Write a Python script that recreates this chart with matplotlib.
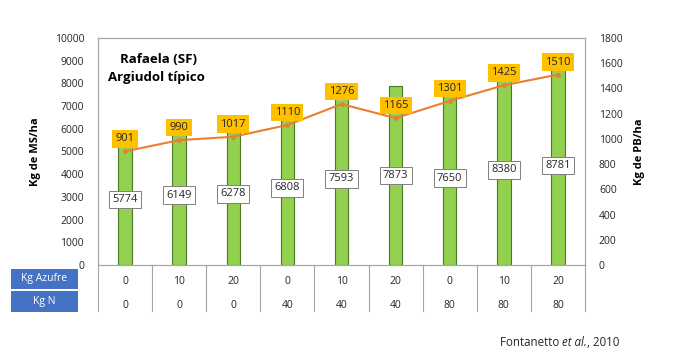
import matplotlib
matplotlib.use("Agg")
import matplotlib.pyplot as plt
from matplotlib.patches import Rectangle
import matplotlib.transforms as mtransforms
import numpy as np

plt.rcParams['font.family'] = ['Open Sans', 'DejaVu Sans']

# data
azufre = ['0', '10', '20', '0', '10', '20', '0', '10', '20']
nitro = ['0', '0', '0', '40', '40', '40', '80', '80', '80']
ms_ha = [5774, 6149, 6278, 6808, 7593, 7873, 7650, 8380, 8781]
pb_ha = [901, 990, 1017, 1110, 1276, 1165, 1301, 1425, 1510]

x = np.arange(len(ms_ha))
frame_col = '#a6a6a6'
txt_col = '#262626'

fig = plt.figure(figsize=(6.82, 3.59), dpi=100)
ax = fig.add_axes([98 / 682, 1 - 265 / 359, 487 / 682, 227 / 359])
ax2 = ax.twinx()

# bars
ax.bar(x, ms_ha, width=0.25, color='#92d050', edgecolor='#4e7a25', linewidth=0.8, zorder=2)
for xi, v in zip(x, ms_ha):
    ax.text(xi, v / 2, str(v), ha='center', va='center', fontsize=8, color=txt_col, zorder=4,
            bbox=dict(boxstyle='square,pad=0.3', fc='white', ec='#7f7f7f', lw=0.7))

ax.set_xlim(-0.5, len(ms_ha) - 0.5)
ax.set_ylim(0, 10000)
ax.set_yticks(np.arange(0, 10001, 1000))
ax.set_xticks([])
ax.tick_params(axis='y', length=0, labelsize=7.5, labelcolor=txt_col, pad=10)
for s in ax.spines.values():
    s.set_color(frame_col)
    s.set_linewidth(0.8)
ax.set_ylabel('Kg de MS/ha', fontsize=8, fontweight='bold', color='black', labelpad=10)

# line
ax2.plot(x, pb_ha, color='#ed7d31', lw=1.5, marker='o', ms=2.5, zorder=3)
for xi, v in zip(x, pb_ha):
    ax2.annotate(str(v), (xi, v), xytext=(0, 9), textcoords='offset points', ha='center', va='center',
                 fontsize=8, color=txt_col, zorder=5,
                 bbox=dict(boxstyle='square,pad=0.3', fc='#ffc000', ec='none'))
ax2.set_ylim(0, 1800)
ax2.set_yticks(np.arange(0, 1801, 200))
ax2.tick_params(axis='y', length=0, labelsize=7.5, labelcolor=txt_col, pad=10)
for s in ax2.spines.values():
    s.set_color(frame_col)
    s.set_linewidth(0.8)
ax2.set_ylabel('Kg de PB/ha', fontsize=8, fontweight='bold', color='black', labelpad=8)
ax.set_zorder(0)
ax2.set_zorder(1)
ax2.patch.set_visible(False)

# title inside
ax.text(0.045, 0.935, 'Rafaela (SF)', transform=ax.transAxes, fontsize=9.5, fontweight='bold',
        ha='left', va='top', color='black')
ax.text(0.02, 0.855, 'Argiudol típico', transform=ax.transAxes, fontsize=9.5, fontweight='bold',
        ha='left', va='top', color='black')

# table under the axis
trans = mtransforms.blended_transform_factory(ax.transData, ax.transAxes)
for k in range(len(x) + 1):
    ax.plot([k - 0.5, k - 0.5], [0, -46 / 227], transform=trans, color=frame_col, lw=0.8, clip_on=False)
for xi, a, n in zip(x, azufre, nitro):
    ax.text(xi, -17 / 227, a, transform=trans, ha='center', va='center', fontsize=7.5, color=txt_col)
    ax.text(xi, -40 / 227, n, transform=trans, ha='center', va='center', fontsize=7.5, color=txt_col)

for (y0, y1), lab in zip([(269, 289), (291, 312)], ['Kg Azufre', 'Kg N']):
    fig.patches.append(Rectangle((11 / 682, 1 - y1 / 359), 67 / 682, (y1 - y0) / 359,
                                 transform=fig.transFigure, fc='#4472c4', ec='none'))
    fig.text(44.5 / 682, 1 - (y0 + y1) / 2 / 359, lab, ha='center', va='center', fontsize=7.5, color='white')

# source note, with italic "et al."
fig.canvas.draw()
r = fig.canvas.get_renderer()
xpos = 500 / 682
ypos = 1 - 342 / 359
for piece, style in [('Fontanetto ', 'normal'), ('et al.', 'italic'), (', 2010', 'normal')]:
    t = fig.text(xpos, ypos, piece, ha='left', va='center', fontsize=8.3, color=txt_col, fontstyle=style)
    bb = t.get_window_extent(renderer=r)
    xpos += bb.width / fig.bbox.width

fig.savefig('out.png', dpi=100)
